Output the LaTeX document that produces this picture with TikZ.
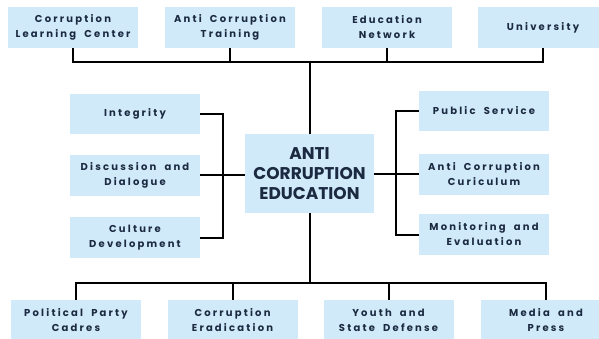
\documentclass[tikz,border=0pt]{standalone}
\usepackage{fontspec}
\usepackage{tikz}
\newfontfamily\boxfont[LetterSpace=22,WordSpace=1.9]{Poppins}
\newfontfamily\mainfont{Poppins}
\definecolor{boxblue}{HTML}{D0EAF9}
\definecolor{navy}{HTML}{1B2A41}
\tikzset{
	box/.style={rectangle,fill=boxblue,text=navy,minimum width=130pt,minimum height=41pt,align=center,inner sep=0pt,font={\boxfont\bfseries\fontsize{10}{15}\selectfont}},
	mainbox/.style={rectangle,fill=boxblue,text=navy,minimum width=129pt,minimum height=79pt,align=center,inner sep=0pt,font={\mainfont\bfseries\fontsize{17}{20}\selectfont}},
	link/.style={draw=black,line width=2pt}
}
\begin{document}
\begin{tikzpicture}[x=1pt,y=-1pt]
	\useasboundingbox (0,0) rectangle (599,338);

	\node [mainbox] (c) at (309.5,173.5) {ANTI\\CORRUPTION\\EDUCATION};

	\node [box] (t1) at (73,27.5) {Corruption\\Learning Center};
	\node [box] (t2) at (230,27.5) {Anti Corruption\\Training};
	\node [box] (t3) at (387,27.5) {Education\\Network};
	\node [box] (t4) at (543,27.5) {University};

	\node [box,minimum height=40pt] (l1) at (135,114) {Integrity};
	\node [box] (l2) at (135,175) {Discussion and\\Dialogue};
	\node [box] (l3) at (135,237.5) {Culture\\Development};

	\node [box,minimum height=40pt] (r1) at (484,111) {Public Service};
	\node [box] (r2) at (484,174) {Anti Corruption\\Curiculum};
	\node [box] (r3) at (484,234.5) {Monitoring and\\Evaluation};

	\node [box] (b1) at (76,320.5) {Political Party\\Cadres};
	\node [box] (b2) at (232.5,320.5) {Corruption\\Eradication};
	\node [box] (b3) at (388.5,320.5) {Youth and\\State Defense};
	\node [box] (b4) at (546,320.5) {Media and\\Press};

	\coordinate (tb) at (309.5,62);
	\coordinate (bb) at (309.5,283);
	\coordinate (lb) at (223,175);
	\coordinate (rb) at (396,174);

	\draw [link] (c.north) -- (tb);
	\draw [link] (t1.south) |- (tb) -| (t4.south);
	\draw [link] (t2.south) -- (t2.south |- tb);
	\draw [link] (t3.south) -- (t3.south |- tb);

	\draw [link] (c.south) -- (bb);
	\draw [link] (b1.north) |- (bb) -| (b4.north);
	\draw [link] (b2.north) -- (b2.north |- bb);
	\draw [link] (b3.north) -- (b3.north |- bb);

	\draw [link] (c.west |- lb) -- (lb);
	\draw [link] (l1.east) -| (lb) |- (l3.east);
	\draw [link] (l2.east) -- (lb);

	\draw [link] (c.east |- rb) -- (rb);
	\draw [link] (r1.west) -| (rb) |- (r3.west);
	\draw [link] (r2.west) -- (rb);
\end{tikzpicture}
\end{document}
